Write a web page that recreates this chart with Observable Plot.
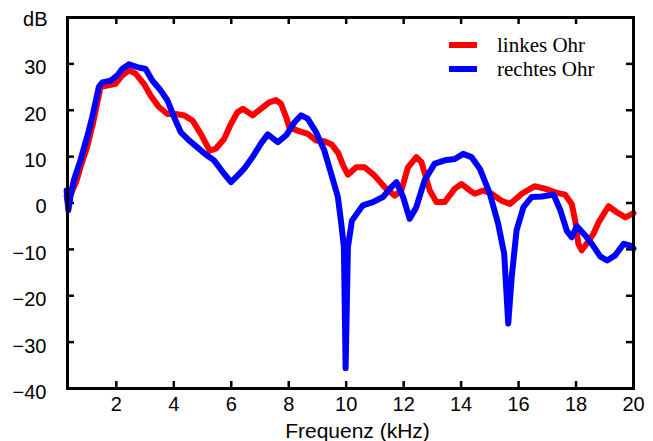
<!DOCTYPE html>
<html>
<head>
<meta charset="utf-8">
<script src="https://cdn.jsdelivr.net/npm/d3@7"></script>
<script src="https://cdn.jsdelivr.net/npm/@observablehq/plot@0.6"></script>
<style>
  html, body { margin: 0; padding: 0; background: #fff; }
  #wrap { position: relative; width: 653px; height: 441px; overflow: hidden; }
  #legend { position: absolute; left: 449px; top: 33px; font-family: "Liberation Serif", "Times New Roman", serif; font-size: 21px; color: #000; }
  .item { position: absolute; left: 0; white-space: nowrap; height: 24px; }
  .swatch { position: absolute; left: 0; width: 28px; height: 6px; }
  .lbl { position: absolute; left: 48px; top: 0; line-height: 24px; }
</style>
</head>
<body>
<div id="wrap">
  <div id="chart"></div>
  <div id="legend"></div>
</div>
<script>
// Series: linkes Ohr (left ear)
const leftFreq = [0.27,0.33,0.4,0.47,0.6,0.75,0.98,1.21,1.35,1.45,1.68,1.97,2.2,2.44,2.67,2.96,3.19,3.48,3.78,4.07,4.36,4.65,4.94,5.25,5.46,5.75,5.99,6.22,6.4,6.74,7.03,7.32,7.56,7.73,7.91,8.02,8.31,8.66,8.95,9.24,9.5,9.72,9.9,10.06,10.35,10.64,10.99,11.34,11.69,11.92,12.15,12.44,12.62,12.91,13.14,13.43,13.78,14.01,14.3,14.48,14.77,15.06,15.41,15.7,16.11,16.55,16.92,17.27,17.62,17.85,17.97,18.08,18.2,18.4,18.61,18.8,19.13,19.42,19.72,20.0];
const leftDb = [1.5,-0.5,1.5,2.7,4.5,7.7,12,17.8,22,25,25.3,25.7,27.5,28.6,27.9,25.7,23.2,20.7,19.2,19.2,18.9,17.8,14.9,11.3,11.7,13.8,17.1,19.6,20.3,18.9,20.3,21.7,22.2,21.4,18.5,16.3,15.6,14.9,13.5,13.3,12.6,10.8,8,6.1,7.7,7.7,5.9,3.4,1.6,2.7,7.7,9.9,8.8,2.7,0.2,0.2,3.1,4.1,2.7,2,2.7,2,0.5,-0.2,2,3.6,3.1,2.3,1.8,-0.2,-3.8,-8.8,-10.2,-8.5,-6.6,-4,-0.7,-2,-3.1,-2.2];

// Series: rechtes Ohr (right ear)
const rightFreq = [0.27,0.33,0.4,0.52,0.75,0.98,1.16,1.39,1.51,1.8,2.03,2.2,2.44,2.73,3.02,3.25,3.54,3.78,4.01,4.24,4.53,4.82,5.1,5.4,5.75,5.99,6.22,6.45,6.74,7.03,7.27,7.62,7.91,8.2,8.43,8.66,8.95,9.24,9.54,9.71,9.83,9.92,9.98,10.06,10.2,10.58,10.93,11.28,11.57,11.75,11.98,12.21,12.44,12.73,13.08,13.43,13.78,14.07,14.36,14.65,15.0,15.29,15.5,15.64,15.76,15.93,16.17,16.46,16.81,17.22,17.45,17.68,17.85,18.03,18.32,18.55,18.84,19.08,19.36,19.66,19.89,20.0];
const rightDb = [2.7,-1.6,1.5,4.9,9.2,14.2,18.5,25,26,26.4,27.5,28.9,29.9,29.3,28.9,26.4,24.3,22.1,18.5,15.3,13.5,12,10.5,9.2,6.3,4.5,5.9,7.4,9.9,12.8,14.8,13.1,14.6,17.4,18.9,18.2,15.3,11.3,5,1.3,-4.5,-9.5,-35.6,-9.5,-3.8,-0.5,0.2,1.3,3.4,4.5,1.3,-3.4,-0.9,4.9,8.5,9.2,9.5,10.6,9.9,7.4,2,-4.5,-11,-26,-16,-5.9,-0.9,1.3,1.4,1.8,-1.5,-6,-7.4,-5,-7,-8.8,-11.5,-12.4,-11.3,-8.8,-9.2,-9.8];

const seriesNames = ["linkes Ohr", "rechtes Ohr"];
const seriesColors = ["#ff0000", "#0000ff"];

const xDomain = [0.3, 20];
const yDomain = [-40, 40];
const xTicks = [2, 4, 6, 8, 10, 12, 14, 16, 18, 20];
const yTicks = [30, 20, 10, 0, -10, -20, -30, -40];
const xInnerTicks = [2, 4, 6, 8, 10, 12, 14, 16, 18];
const yInnerTicks = [30, 20, 10, 0, -10, -20, -30];
const xLabel = "Frequenz (kHz)";
const yLabel = "dB";

const left = leftFreq.map((f, i) => ({f, db: leftDb[i]}));
const right = rightFreq.map((f, i) => ({f, db: rightDb[i]}));

const plot = Plot.plot({
  width: 653,
  height: 441,
  marginLeft: 67,
  marginRight: 20,
  marginTop: 17,
  marginBottom: 53,
  style: {fontFamily: "'Liberation Sans', Arial, sans-serif", fontSize: "20px", color: "#000", background: "#fff"},
  x: {domain: xDomain, label: null},
  y: {domain: yDomain, label: null},
  marks: [
    Plot.axisX(xTicks, {tickSize: 0, tickPadding: 8, label: null, fontSize: 20}),
    Plot.axisY(yTicks, {tickSize: 0, tickPadding: 21, dy: 4, label: null, fontSize: 20}),
    // short inward ticks on all four sides of the box
    Plot.ruleX(xInnerTicks, {x: d => d, y1: yDomain[0], y2: yDomain[0], insetTop: -7, stroke: "#000", strokeWidth: 2.5}),
    Plot.ruleX(xInnerTicks, {x: d => d, y1: yDomain[1], y2: yDomain[1], insetBottom: -7, stroke: "#000", strokeWidth: 2.5}),
    Plot.ruleY(yInnerTicks, {y: d => d, x1: xDomain[0], x2: xDomain[0], insetRight: -7, stroke: "#000", strokeWidth: 2.5}),
    Plot.ruleY(yInnerTicks, {y: d => d, x1: xDomain[1], x2: xDomain[1], insetLeft: -7, stroke: "#000", strokeWidth: 2.5}),
    Plot.line(left, {x: "f", y: "db", stroke: seriesColors[0], strokeWidth: 6, strokeLinejoin: "round", strokeLinecap: "round"}),
    Plot.line(right, {x: "f", y: "db", stroke: seriesColors[1], strokeWidth: 6, strokeLinejoin: "round", strokeLinecap: "round"}),
    Plot.frame({stroke: "#000", strokeWidth: 3}),
    Plot.text([yLabel], {frameAnchor: "top-left", lineAnchor: "middle", dx: -20, dy: 2, textAnchor: "end", fontSize: 20}),
    Plot.text([xLabel], {frameAnchor: "bottom", lineAnchor: "middle", dx: 7, dy: 43, fontSize: 21})
  ]
});
document.getElementById("chart").appendChild(plot);

const legend = document.getElementById("legend");
seriesNames.forEach((name, i) => {
  const item = document.createElement("div");
  item.className = "item";
  item.style.top = (i * 24) + "px";
  const sw = document.createElement("div");
  sw.className = "swatch";
  sw.style.background = seriesColors[i];
  sw.style.top = "9px";
  const lbl = document.createElement("div");
  lbl.className = "lbl";
  lbl.textContent = name;
  item.appendChild(sw);
  item.appendChild(lbl);
  legend.appendChild(item);
});
</script>
</body>
</html>
